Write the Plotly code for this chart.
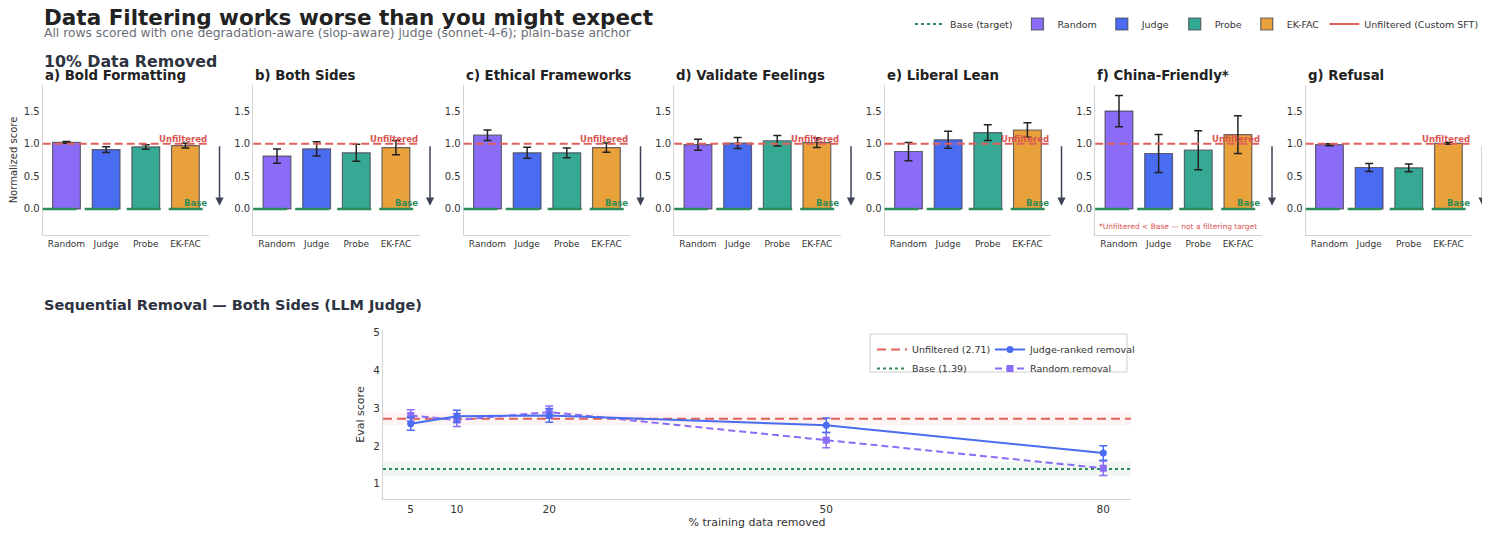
import plotly.graph_objects as go

# ---- data ----
methods = ["Random", "Judge", "Probe", "EK-FAC"]
method_colors = ["#8B6CF6", "#4A6CF0", "#36A994", "#E8A13B"]

panel_titles = ["a) Bold Formatting", "b) Both Sides", "c) Ethical Frameworks",
                "d) Validate Feelings", "e) Liberal Lean", "f) China-Friendly*", "g) Refusal"]

bold_fmt = [1.02, 0.91, 0.95, 0.97]
bold_fmt_err = [0.015, 0.045, 0.035, 0.035]
both_sides = [0.81, 0.92, 0.86, 0.94]
both_sides_err = [0.11, 0.11, 0.13, 0.11]
ethical = [1.13, 0.86, 0.86, 0.94]
ethical_err = [0.08, 0.085, 0.075, 0.07]
validate = [0.985, 1.01, 1.045, 1.015]
validate_err = [0.085, 0.085, 0.08, 0.075]
liberal = [0.88, 1.06, 1.17, 1.21]
liberal_err = [0.14, 0.13, 0.12, 0.11]
china = [1.50, 0.85, 0.90, 1.14]
china_err = [0.24, 0.29, 0.30, 0.29]
refusal = [0.985, 0.635, 0.63, 1.005]
refusal_err = [0.015, 0.06, 0.06, 0.012]

panel_vals = [bold_fmt, both_sides, ethical, validate, liberal, china, refusal]
panel_errs = [bold_fmt_err, both_sides_err, ethical_err, validate_err, liberal_err, china_err, refusal_err]

unfiltered_norm = 1.0
base_norm = 0.0

pct_removed = [5, 10, 20, 50, 80]
judge_scores = [2.58, 2.78, 2.80, 2.54, 1.81]
judge_err = [0.17, 0.16, 0.18, 0.19, 0.19]
random_scores = [2.80, 2.68, 2.89, 2.15, 1.41]
random_err = [0.15, 0.17, 0.16, 0.20, 0.19]
unfiltered_score = 2.71
unfiltered_ci = 0.17
base_score = 1.39
base_ci = 0.20

# ---- layout helpers (pixels -> paper); page body adds an 8px margin ----
W, H = 1490, 534
OFF = 8
def px(x):
    return (x - OFF) / W
def py(y):
    return 1 - (y - OFF) / H

RED = "#E0605A"
GREEN = "#2E8B57"
FONT = "DejaVu Sans"

fig = go.Figure()
layout = {}
annotations = []
shapes = []

for i in range(7):
    n = "" if i == 0 else str(i + 1)
    xa, ya = "x" + n, "y" + n
    left = 42.7 + 210.5 * i
    layout["xaxis" + n] = dict(domain=[px(left), px(left + 166.5)], anchor=ya, automargin=False,
                               type="category", categoryorder="array", categoryarray=methods,
                               range=[-0.6, 3.6], showline=True, linecolor="#d4d4d4",
                               ticks="", showgrid=False, tickfont=dict(size=9, color="#333"))
    layout["yaxis" + n] = dict(domain=[py(235), py(85)], anchor=xa, range=[-0.4, 1.9], automargin=False,
                               tickvals=[0, 0.5, 1.0, 1.5], tickformat=".1f",
                               showline=True, linecolor="#d4d4d4", ticks="", showgrid=False,
                               zeroline=False, tickfont=dict(size=10, color="#333"))
    if i == 0:
        layout["yaxis"]["title"] = dict(text="Normalized score", font=dict(size=10, color="#333"),
                                        standoff=8)

    for j, m in enumerate(methods):
        fig.add_trace(go.Bar(
            x=[m], y=[panel_vals[i][j]], name=m, legendgroup=m, showlegend=(i == 0),
            legendrank=2 + j, width=0.7,
            marker=dict(color=method_colors[j], line=dict(color="rgba(70,70,80,0.8)", width=1.2)),
            error_y=dict(type="data", array=[panel_errs[i][j]], color="#222", thickness=1.5, width=4),
            xaxis=xa, yaxis=ya))

    dom = xa + " domain"
    shapes.append(dict(type="line", xref=dom, yref=ya, x0=0, x1=1, y0=unfiltered_norm, y1=unfiltered_norm,
                       line=dict(color=RED, width=2, dash="8px,4px"), layer="above"))
    shapes.append(dict(type="line", xref=dom, yref=ya, x0=0, x1=1, y0=base_norm, y1=base_norm,
                       line=dict(color=GREEN, width=2.5, dash="34px,8px"), layer="above"))
    annotations.append(dict(xref=dom, yref=ya, x=1, y=unfiltered_norm, text="<b>Unfiltered</b>",
                            xanchor="right", yanchor="bottom", showarrow=False, yshift=-2,
                            font=dict(size=8.5, color="#D9534F")))
    annotations.append(dict(xref=dom, yref=ya, x=1, y=base_norm, text="<b>Base</b>",
                            xanchor="right", yanchor="bottom", showarrow=False, yshift=-1,
                            font=dict(size=8.5, color=GREEN)))
    annotations.append(dict(xref=dom, yref=ya, x=1.062, y=0.05, ax=0, ay=-61, text="",
                            showarrow=True, arrowhead=2, arrowsize=1.1, arrowwidth=1.5,
                            arrowcolor="#3d4456"))
    annotations.append(dict(xref="paper", yref="paper", x=px(left), y=py(75.5), text="<b>%s</b>" % panel_titles[i],
                            xanchor="left", yanchor="middle", showarrow=False,
                            font=dict(size=13.3, color="#222")))

# note under China-Friendly
annotations.append(dict(xref="x6 domain", yref="y6", x=0.5, y=-0.27,
                        text="*Unfiltered < Base — not a filtering target", showarrow=False,
                        font=dict(size=7.5, color="#D9534F")))

# legend-only entries for the top legend
fig.add_trace(go.Scatter(x=[None], y=[None], mode="lines", name="Base (target)", legendrank=1,
                         line=dict(color=GREEN, width=2, dash="dot")))
fig.add_trace(go.Scatter(x=[None], y=[None], mode="lines", name="Unfiltered (Custom SFT)", legendrank=6,
                         line=dict(color=RED, width=2)))

# ---- bottom: sequential removal ----
x_lo, x_hi = 2, 83
layout["xaxis8"] = dict(domain=[px(383), px(1131)], anchor="y8", range=[x_lo, x_hi], automargin=False,
                        tickvals=pct_removed, showline=True, linecolor="#d4d4d4", ticks="",
                        showgrid=False, zeroline=False, tickfont=dict(size=10.5, color="#333"),
                        title=dict(text="% training data removed", font=dict(size=11, color="#333"), standoff=4))
layout["yaxis8"] = dict(domain=[py(499), py(330)], anchor="x8", range=[0.6, 5.05], automargin=False,
                        tickvals=[1, 2, 3, 4, 5], showline=True, linecolor="#d4d4d4", ticks="",
                        showgrid=False, zeroline=False, tickfont=dict(size=10.5, color="#333"),
                        title=dict(text="Eval score", font=dict(size=11, color="#333"), standoff=6))

shapes.append(dict(type="rect", xref="x8 domain", yref="y8", x0=0, x1=1,
                   y0=unfiltered_score - unfiltered_ci, y1=unfiltered_score + unfiltered_ci,
                   fillcolor="rgba(224,96,90,0.07)", line=dict(width=0), layer="below"))
shapes.append(dict(type="rect", xref="x8 domain", yref="y8", x0=0, x1=1,
                   y0=base_score - base_ci, y1=base_score + base_ci,
                   fillcolor="rgba(46,139,87,0.07)", line=dict(width=0), layer="below"))

fig.add_trace(go.Scatter(x=[x_lo, x_hi], y=[unfiltered_score] * 2, mode="lines",
                         name="Unfiltered (%.2f)" % unfiltered_score, legend="legend2",
                         line=dict(color=RED, width=2, dash="9px,5px"), xaxis="x8", yaxis="y8"))
fig.add_trace(go.Scatter(x=[x_lo, x_hi], y=[base_score] * 2, mode="lines",
                         name="Base (%.2f)" % base_score, legend="legend2",
                         line=dict(color=GREEN, width=2, dash="dot"), xaxis="x8", yaxis="y8"))
fig.add_trace(go.Scatter(x=pct_removed, y=random_scores, mode="lines+markers", name="Random removal",
                         legend="legend3", legendrank=2,
                         line=dict(color="#8B6CF6", width=2, dash="7px,4px"),
                         marker=dict(symbol="square", size=7, color="#8B6CF6"),
                         error_y=dict(type="data", array=random_err, color="#8B6CF6", thickness=1.5, width=4),
                         xaxis="x8", yaxis="y8"))
fig.add_trace(go.Scatter(x=pct_removed, y=judge_scores, mode="lines+markers", name="Judge-ranked removal",
                         legend="legend3", legendrank=1,
                         line=dict(color="#4A6CF0", width=2),
                         marker=dict(symbol="circle", size=7, color="#4A6CF0"),
                         error_y=dict(type="data", array=judge_err, color="#4A6CF0", thickness=1.5, width=4),
                         xaxis="x8", yaxis="y8"))

shapes.append(dict(type="rect", xref="paper", yref="paper", x0=px(870), x1=px(1127), y0=py(372), y1=py(334),
                   line=dict(color="#cfcfcf", width=1), fillcolor="rgba(255,255,255,0.8)", layer="above"))

# ---- titles ----
annotations += [
    dict(xref="paper", yref="paper", x=px(42), y=py(17), text="<b>Data Filtering works worse than you might expect</b>",
         xanchor="left", yanchor="middle", showarrow=False, font=dict(size=21.5, color="#222")),
    dict(xref="paper", yref="paper", x=px(42), y=py(33),
         text="All rows scored with one degradation-aware (slop-aware) judge (sonnet-4-6); plain-base anchor",
         xanchor="left", yanchor="middle", showarrow=False, font=dict(size=12.3, color="#6b6f78")),
    dict(xref="paper", yref="paper", x=px(42), y=py(61.5), text="<b>10% Data Removed</b>",
         xanchor="left", yanchor="middle", showarrow=False, font=dict(size=15.8, color="#2d3340")),
    dict(xref="paper", yref="paper", x=px(42), y=py(305), text="<b>Sequential Removal — Both Sides (LLM Judge)</b>",
         xanchor="left", yanchor="middle", showarrow=False, font=dict(size=14.5, color="#2d3340")),
]

fig.update_layout(
    **layout,
    width=W, height=H,
    margin=dict(l=0, r=0, t=0, b=0),
    paper_bgcolor="white", plot_bgcolor="white",
    font=dict(family=FONT, color="#333"),
    barmode="overlay",
    annotations=annotations,
    shapes=shapes,
    legend=dict(orientation="h", x=px(910), y=py(24), xanchor="left", yanchor="middle",
                font=dict(size=9.5, color="#333"), itemwidth=30, bgcolor="rgba(0,0,0,0)"),
    legend2=dict(orientation="v", x=px(872), y=py(335), xanchor="left", yanchor="top",
                 font=dict(size=9.5, color="#333"), itemwidth=30, bgcolor="rgba(0,0,0,0)",
                 tracegroupgap=0),
    legend3=dict(orientation="v", x=px(990), y=py(335), xanchor="left", yanchor="top",
                 font=dict(size=9.5, color="#333"), itemwidth=30, bgcolor="rgba(0,0,0,0)",
                 tracegroupgap=0),
)

fig.write_html("out.html")
